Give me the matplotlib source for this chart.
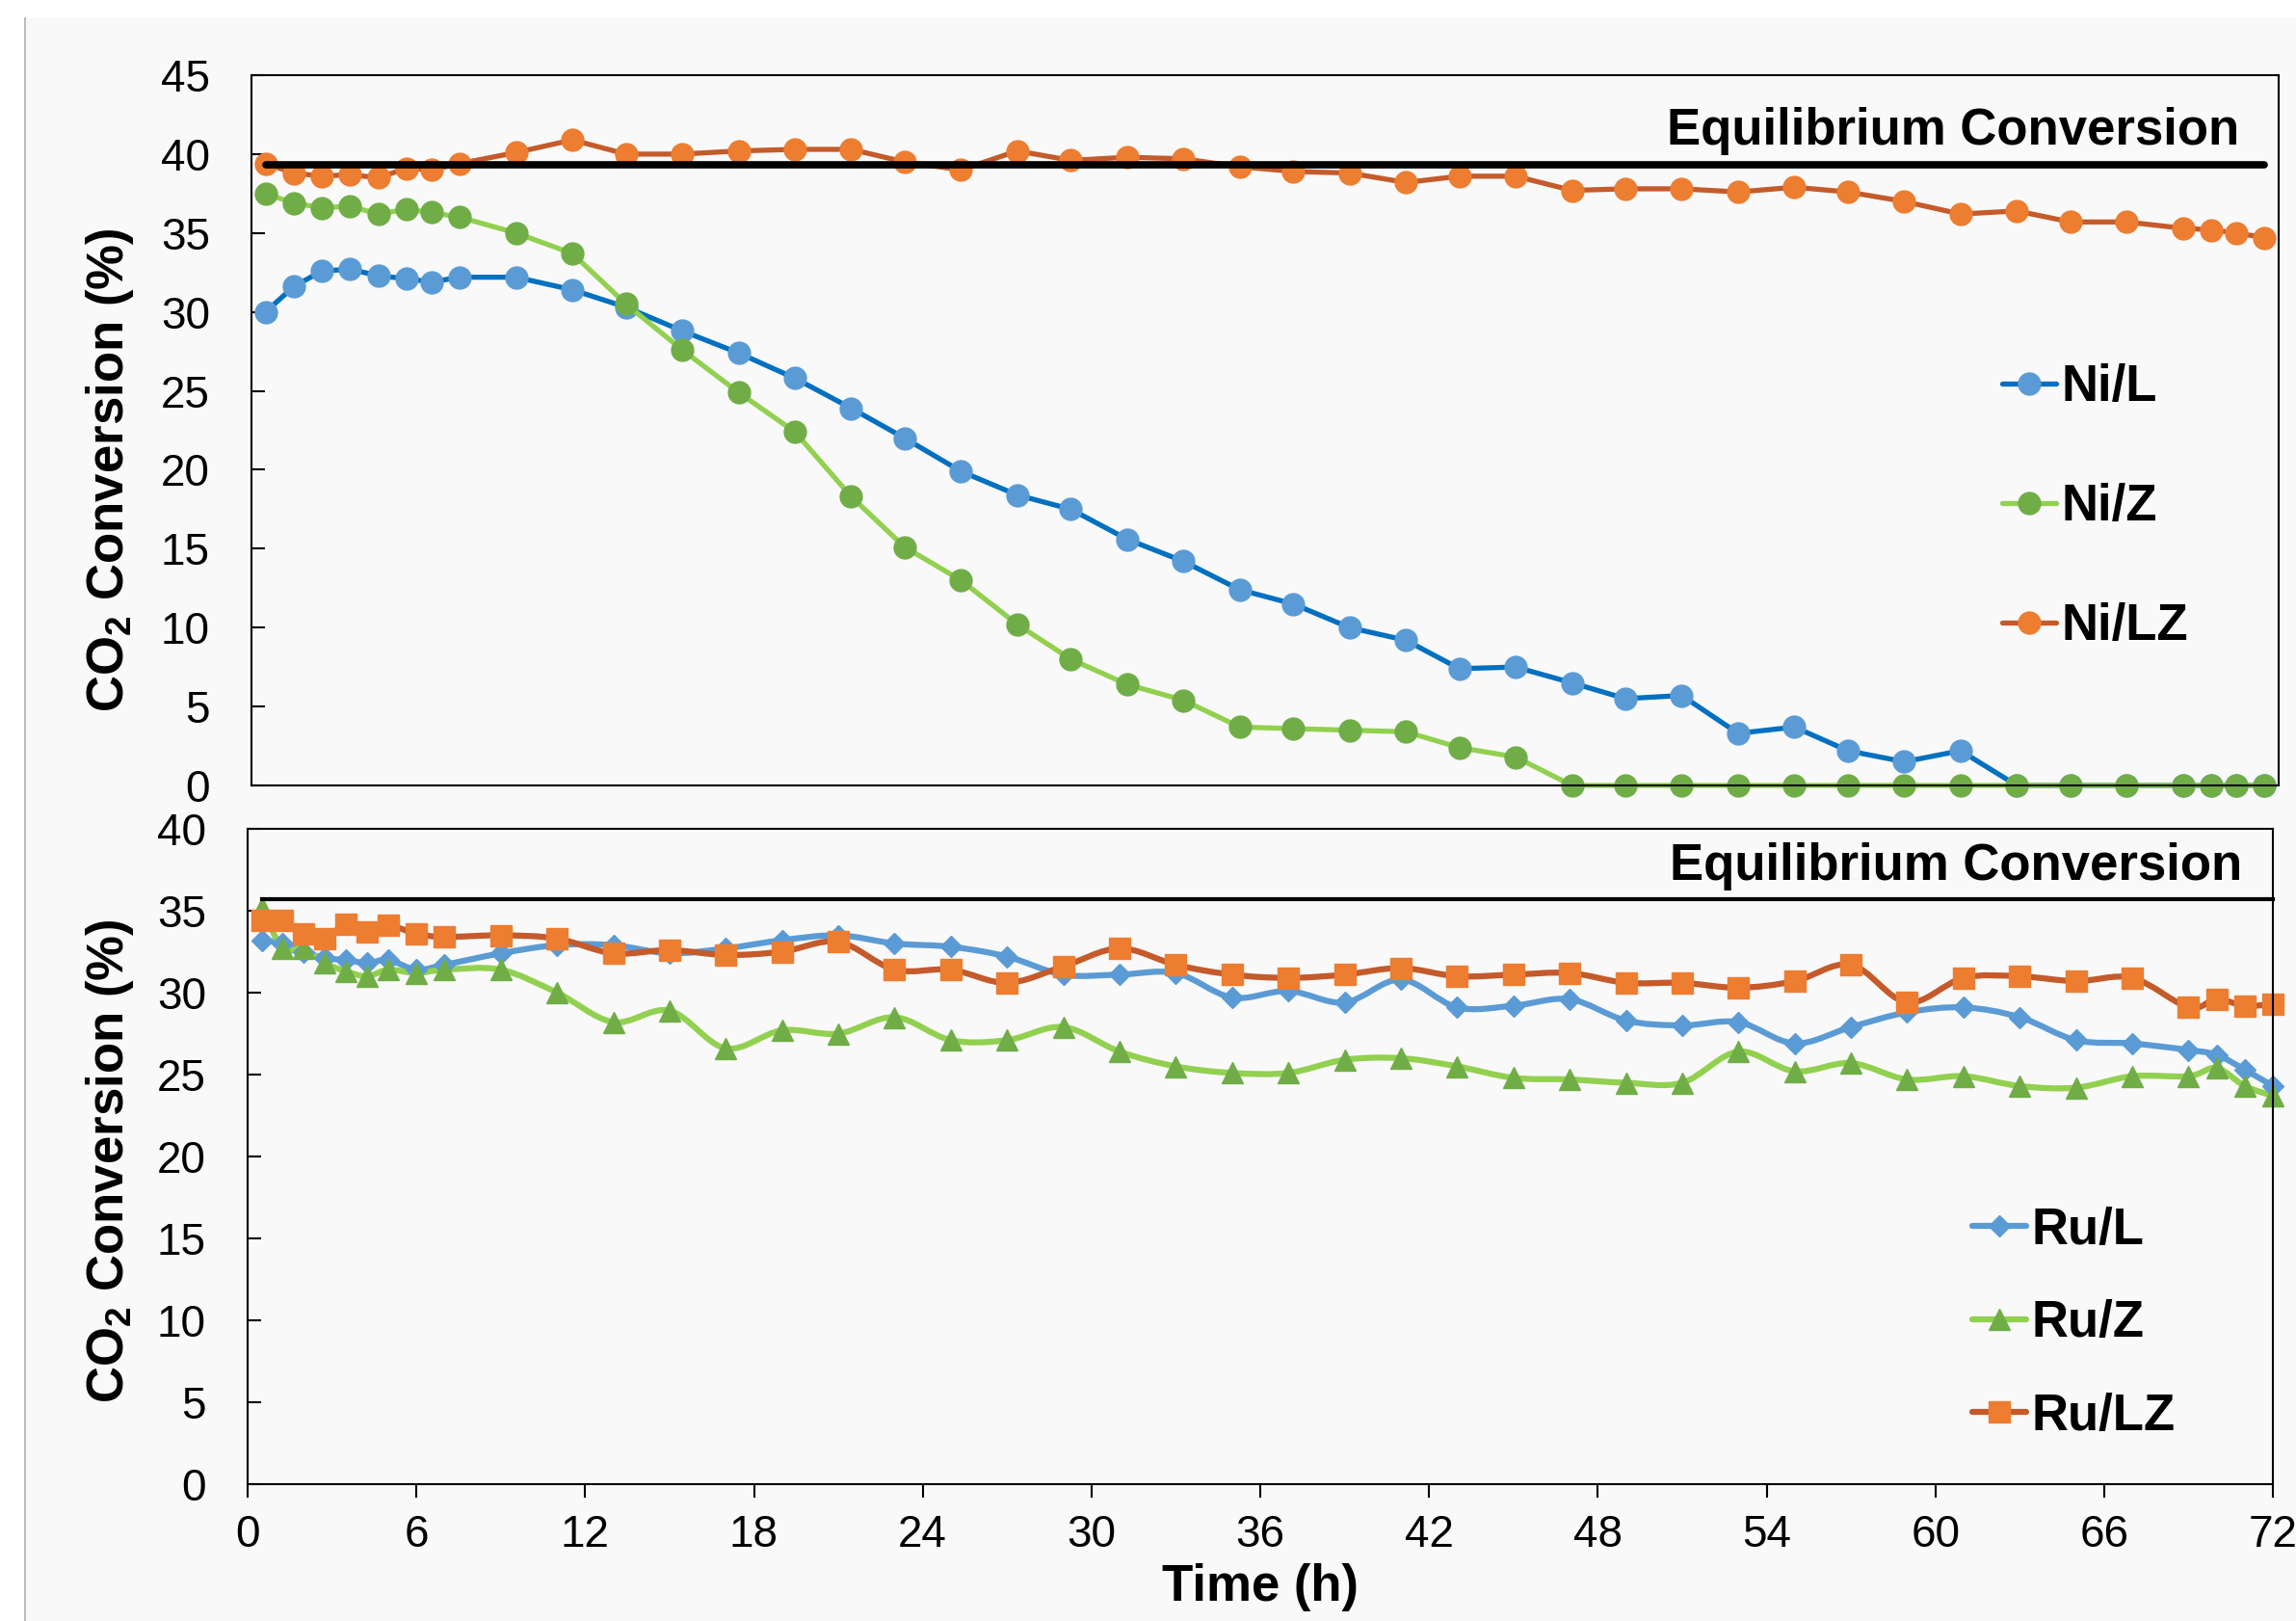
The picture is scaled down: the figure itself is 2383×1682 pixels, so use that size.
import numpy as np
import matplotlib
matplotlib.use("Agg")
from matplotlib import pyplot as plt
from matplotlib.path import Path
from matplotlib.patches import PathPatch, Rectangle
from matplotlib.lines import Line2D

plt.rcParams['font.family'] = ['Liberation Sans', 'DejaVu Sans']
plt.rcParams['mathtext.fontset'] = 'custom'
plt.rcParams['mathtext.rm'] = 'Liberation Sans'
plt.rcParams['mathtext.bf'] = 'Liberation Sans:bold'

# ---- data ----
# Ni catalysts (upper panel)
t_ni = [0.5, 1.5, 2.5, 3.5, 4.5, 5.5, 6.4, 7.4, 9.4, 11.4, 13.3, 15.3, 17.3, 19.3,
        21.3, 23.2, 25.2, 27.2, 29.1, 31.1, 33.1, 35.1, 37.0, 39.0, 41.0, 42.9,
        44.9, 46.9, 48.8, 50.8, 52.8, 54.8, 56.7, 58.7, 60.7, 62.7, 64.6, 66.6,
        68.6, 69.6, 70.5, 71.5]
ni_l = [30.0, 31.6, 32.6, 32.7, 32.3, 32.1, 31.9, 32.2, 32.2, 31.4, 30.3, 28.8,
        27.4, 25.8, 23.9, 22.0, 19.9, 18.4, 17.5, 15.6, 14.2, 12.4, 11.5, 10.0,
        9.2, 7.4, 7.5, 6.5, 5.5, 5.7, 3.3, 3.7, 2.2, 1.5, 2.2, 0, 0, 0, 0, 0, 0, 0]
ni_z = [37.5, 36.9, 36.6, 36.7, 36.2, 36.5, 36.3, 36.0, 35.0, 33.7, 30.5, 27.6,
        24.9, 22.4, 18.3, 15.1, 13.0, 10.2, 8.0, 6.4, 5.4, 3.7, 3.6, 3.5, 3.4,
        2.4, 1.8, 0, 0, 0, 0, 0, 0, 0, 0, 0, 0, 0, 0, 0, 0, 0]
ni_lz = [39.4, 38.8, 38.6, 38.7, 38.5, 39.1, 39.0, 39.4, 40.1, 40.9, 40.0, 40.0,
         40.2, 40.3, 40.3, 39.5, 39.0, 40.2, 39.6, 39.8, 39.7, 39.2, 38.9, 38.8,
         38.2, 38.6, 38.6, 37.7, 37.8, 37.8, 37.6, 37.9, 37.6, 37.0, 36.2, 36.4,
         35.7, 35.7, 35.3, 35.2, 35.0, 34.7]
eq_ni = 39.35

# Ru catalysts (lower panel)
t_ru = [0.5, 1.25, 2.0, 2.75, 3.5, 4.25, 5.0, 6, 7, 9, 11, 13, 15, 17, 19, 21, 23,
        25, 27, 29, 31, 33, 35, 37, 39, 41, 43, 45, 47, 49, 51, 53, 55, 57, 59,
        61, 63, 65, 67, 69, 70, 71, 72]
ru_l = [33.2, 33.0, 32.5, 32.1, 32.0, 31.8, 32.0, 31.4, 31.7, 32.4, 32.9, 32.9,
        32.4, 32.7, 33.2, 33.5, 33.0, 32.8, 32.2, 31.1, 31.1, 31.2, 29.7, 30.1,
        29.4, 30.8, 29.1, 29.2, 29.6, 28.3, 28.0, 28.2, 26.9, 27.9, 28.8, 29.1,
        28.5, 27.1, 26.9, 26.5, 26.2, 25.3, 24.3]
ru_z = [35.2, 32.7, 32.7, 31.8, 31.3, 31.0, 31.4, 31.2, 31.4, 31.4, 30.0, 28.2,
        28.9, 26.6, 27.7, 27.5, 28.5, 27.1, 27.1, 27.9, 26.4, 25.5, 25.1, 25.1,
        25.9, 26.0, 25.5, 24.8, 24.7, 24.5, 24.5, 26.4, 25.2, 25.7, 24.7, 24.9,
        24.3, 24.2, 24.9, 24.9, 25.4, 24.3, 23.7]
ru_lz = [34.4, 34.4, 33.6, 33.3, 34.2, 33.7, 34.1, 33.6, 33.4, 33.5, 33.3, 32.4,
         32.6, 32.3, 32.5, 33.1, 31.4, 31.4, 30.6, 31.6, 32.7, 31.7, 31.1, 30.9,
         31.1, 31.5, 31.0, 31.1, 31.2, 30.6, 30.6, 30.3, 30.7, 31.7, 29.4, 30.9,
         31.0, 30.7, 30.9, 29.1, 29.6, 29.2, 29.3]
eq_ru = 35.7

ni_labels = ['Ni/L', 'Ni/Z', 'Ni/LZ']
ru_labels = ['Ru/L', 'Ru/Z', 'Ru/LZ']


def smooth_path(x, y, k=1.0 / 6):
    # excel-like smoothed line as cubic bezier segments through the points
    verts = [(x[0], y[0])]
    codes = [Path.MOVETO]
    n = len(x)
    for i in range(n - 1):
        xa, ya = x[max(i - 1, 0)], y[max(i - 1, 0)]
        xb, yb = x[min(i + 2, n - 1)], y[min(i + 2, n - 1)]
        c1 = (x[i] + (x[i + 1] - xa) * k, y[i] + (y[i + 1] - ya) * k)
        c2 = (x[i + 1] - (xb - x[i]) * k, y[i + 1] - (yb - y[i]) * k)
        verts += [c1, c2, (x[i + 1], y[i + 1])]
        codes += [Path.CURVE4] * 3
    return Path(verts, codes)


W, H = 2383, 1682
fig = plt.figure(figsize=(W / 100, H / 100), dpi=100, facecolor='white')

# slide-like background with shaded left edge
bg = fig.add_axes([0, 0, 1, 1], zorder=-5)
bg.add_patch(Rectangle((27, 18), W - 27, H - 18, color='#F9F9F9', lw=0))
grad = np.linspace(0, 1, 64).reshape(1, -1)
bg.imshow(grad, extent=[27, 64, H, 18], aspect='auto',
          cmap=matplotlib.colors.LinearSegmentedColormap.from_list('sh', ['#D2D2D2', '#F9F9F9']))
bg.add_patch(Rectangle((25, 18), 2, H - 18, color='#BDBDBD', lw=0))
bg.set_xlim(0, W)
bg.set_ylim(H, 0)
bg.axis('off')

tick_fs = 33
lab_fs = 38

# ---------------- upper panel ----------------
ax1 = fig.add_axes([261 / W, 1 - 815 / H, 2104 / W, 737 / H])
ax1.set_facecolor('none')
ni_style = [('#0070C0', '#5B9BD5'), ('#92D050', '#70AD47'), ('#C55A2B', '#ED7D31')]
handles1 = []
for vals, lab, (lc, mc) in zip([ni_l, ni_z, ni_lz], ni_labels, ni_style):
    ln, = ax1.plot(t_ni, vals, color=lc, lw=3.8, marker='o', ms=16.5,
                   mfc=mc, mec=mc, clip_on=False, label=lab, solid_capstyle='round')
    handles1.append(ln)
ax1.plot([t_ni[0], t_ni[-1]], [eq_ni, eq_ni], color='black', lw=5.5,
         solid_capstyle='round', clip_on=False)
ax1.text(70.6, 40.6, 'Equilibrium Conversion', ha='right', va='baseline',
         fontsize=lab_fs, fontweight='bold')
ax1.set_xlim(0, 72)
ax1.set_ylim(0, 45)
ax1.set_yticks(np.arange(0, 46, 5))
ax1.tick_params(axis='y', direction='in', length=10, width=1.5, pad=31, labelsize=tick_fs)
ax1.tick_params(axis='x', length=0, labelbottom=False)
for s in ax1.spines.values():
    s.set_linewidth(1.5)
ax1.set_ylabel(r'CO$_\mathbf{2}$ Conversion (%)', fontsize=lab_fs, fontweight='bold',
               va='center', ha='center')
ax1.yaxis.set_label_coords(-0.0699, 0.4437)
ax1.legend(handles=handles1, loc='upper left', bbox_to_anchor=(0.8636, 0.594),
           frameon=False, borderpad=0, borderaxespad=0, handlelength=1.06,
           handletextpad=0.1, labelspacing=1.40,
           prop=dict(family='Liberation Sans', weight='bold', size=lab_fs))

# ---------------- lower panel ----------------
ax2 = fig.add_axes([257 / W, 1 - 1540 / H, 2102 / W, 680 / H])
ax2.set_facecolor('none')
ru_style = [('#5B9BD5', '#5B9BD5', 'D', 11.5), ('#92D050', '#70AD47', '^', 16.5),
            ('#C55A2B', '#ED7D31', 's', 15.5)]
handles2 = []
for vals, lab, (lc, mc, mk, ms) in zip([ru_l, ru_z, ru_lz], ru_labels, ru_style):
    ax2.add_patch(PathPatch(smooth_path(t_ru, vals), fill=False, ec=lc, lw=4.5,
                            capstyle='round', joinstyle='round'))
    ax2.plot(t_ru, vals, ls='none', marker=mk, ms=ms, mfc=mc, mec=mc, clip_on=False)
    handles2.append(Line2D([], [], color=lc, lw=4.5, marker=mk, ms=ms, mfc=mc, mec=mc,
                           solid_capstyle='round'))
ax2.plot([t_ru[0], t_ru[-1]], [eq_ru, eq_ru], color='black', lw=3, clip_on=False)
ax2.text(70.9, 36.9, 'Equilibrium Conversion', ha='right', va='baseline',
         fontsize=lab_fs, fontweight='bold')
ax2.set_xlim(0, 72)
ax2.set_ylim(0, 40)
ax2.set_yticks(np.arange(0, 41, 5))
ax2.set_xticks(np.arange(0, 73, 6))
ax2.tick_params(axis='y', direction='in', length=10, width=1.5, pad=31, labelsize=tick_fs)
ax2.tick_params(axis='x', direction='out', length=10, width=1.5, pad=12, labelsize=tick_fs)
for s in ax2.spines.values():
    s.set_linewidth(1.5)
ax2.set_ylabel(r'CO$_\mathbf{2}$ Conversion (%)', fontsize=lab_fs, fontweight='bold',
               va='center', ha='center')
ax2.yaxis.set_label_coords(-0.068, 0.4926)
ax2.set_xlabel('Time (h)', fontsize=lab_fs, fontweight='bold', va='top')
ax2.xaxis.set_label_coords(0.5, -0.121)
ax2.legend(handles=handles2, labels=ru_labels, loc='upper left',
           bbox_to_anchor=(0.8516, 0.424), frameon=False, borderpad=0,
           borderaxespad=0, handlelength=1.06, handletextpad=0.1, labelspacing=0.88,
           prop=dict(family='Liberation Sans', weight='bold', size=lab_fs))

fig.savefig('out.png', dpi=100, facecolor=fig.get_facecolor())
